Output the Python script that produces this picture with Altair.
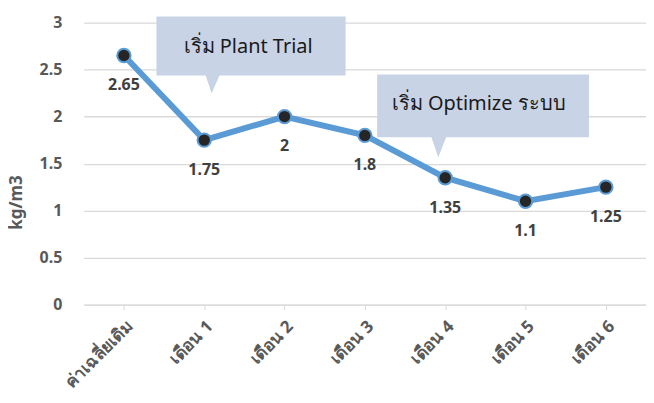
import altair as alt
import pandas as pd

categories = ["ค่าเฉลี่ยเดิม", "เดือน 1", "เดือน 2", "เดือน 3", "เดือน 4", "เดือน 5", "เดือน 6"]
values = [2.65, 1.75, 2.0, 1.8, 1.35, 1.1, 1.25]
labels = ["2.65", "1.75", "2", "1.8", "1.35", "1.1", "1.25"]
y_ticks = [0, 0.5, 1, 1.5, 2, 2.5, 3]

# callouts (in category-index / value units)
callout_ids = ["a"] * 5 + ["b"] * 5
callout_x = [0.405, 1.018, 1.092, 1.19, 2.76, 3.153, 3.828, 3.914, 4.012, 5.79]
callout_bottom = [2.438, 2.438, 2.247, 2.438, 2.438, 1.78, 1.78, 1.568, 1.78, 1.78]
callout_top = [3.064] * 5 + [2.449] * 5
callout_text = ["เริ่ม Plant Trial", "เริ่ม Optimize ระบบ"]
callout_text_x = [1.546, 4.417]
callout_text_y = [2.745, 2.13]

FONT = "Noto Sans"
YTITLE = "kg/m3"

df = pd.DataFrame({"cat": categories, "v": values, "lab": labels})
cdf = pd.DataFrame({"id": callout_ids, "x": callout_x, "y": callout_bottom, "y2": callout_top})
tdf = pd.DataFrame({"t": callout_text, "x": callout_text_x, "y": callout_text_y})

yscale = alt.Scale(domain=[0, 3])
xq = alt.Scale(domain=[-0.5, 6.5], nice=False, zero=False)

yaxis = alt.Axis(values=y_ticks, format="~g", labelFont=FONT, labelFontSize=16,
                 labelFontWeight="bold", labelColor="#595959", domain=False, ticks=False,
                 labelPadding=22, gridColor="#d9d9d9", gridWidth=1.3,
                 titleFont=FONT, titleFontSize=17, titleFontWeight="bold",
                 titleColor="#595959", titleX=-67, titleY=180, titleBaseline="middle")

base = alt.Chart(df).encode(
    x=alt.X("cat:N", sort=categories, title=None,
            scale=alt.Scale(type="point", padding=0.5),
            axis=alt.Axis(labelAngle=-45, labelFont=FONT, labelFontSize=17, labelFontWeight="bold",
                          labelColor="#595959", domainColor="#d9d9d9", tickColor="#d9d9d9",
                          tickSize=5, labelPadding=8, grid=False)),
    y=alt.Y("v:Q", scale=yscale, title=YTITLE, axis=yaxis),
)

line = base.mark_line(color="#5b9bd5", strokeWidth=6)
pts = base.mark_point(filled=True, size=180, color="#262626", stroke="#5b9bd5",
                      strokeWidth=2, opacity=1)
txt = base.mark_text(dy=30, font=FONT, fontSize=16, fontWeight="bold", color="#404040").encode(
    text="lab:N")

callouts = alt.Chart(cdf).mark_area(color="#c8d3e6", opacity=1, interpolate="linear").encode(
    x=alt.X("x:Q", scale=xq, axis=None),
    y=alt.Y("y:Q", scale=yscale, title=YTITLE, axis=yaxis),
    y2="y2:Q",
    detail="id:N",
)
ctext = alt.Chart(tdf).mark_text(font=FONT, fontSize=20, color="#1a1a1a").encode(
    x=alt.X("x:Q", scale=xq, axis=None),
    y=alt.Y("y:Q", scale=yscale, title=YTITLE, axis=yaxis),
    text="t:N",
)

main = alt.layer(line, pts, txt)
ann = alt.layer(callouts, ctext)

chart = alt.layer(main, ann).resolve_scale(x="independent").properties(
    width=564, height=283,
    padding={"left": 76, "top": 14, "right": 0, "bottom": 90},
    autosize=alt.AutoSizeParams(type="none"),
    background="white",
).configure_view(stroke=None)

chart.save("out.html", embed_options={"renderer": "svg", "actions": False})
